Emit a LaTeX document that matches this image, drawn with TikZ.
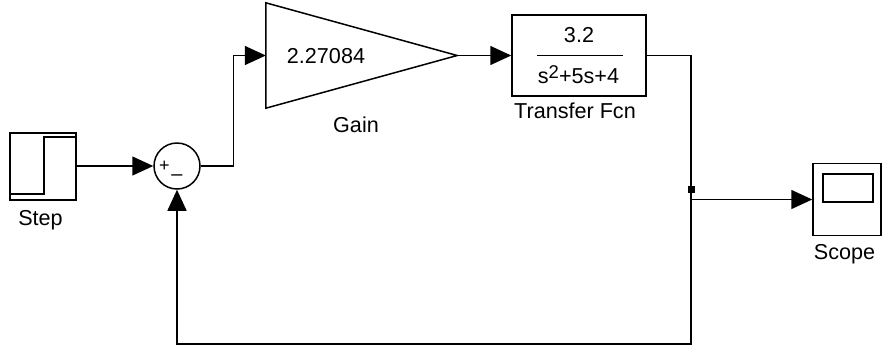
\documentclass[tikz,border=0pt]{standalone}
\usepackage{fontspec}
\setmainfont{Liberation Sans}
\usetikzlibrary{arrows.meta}
\begin{document}
\begin{tikzpicture}[x=1pt,y=-1pt,
  wire/.style={line width=1.5pt, line join=miter},
  sig/.style={wire, -{Triangle[length=21pt,width=19pt]}},
  blk/.style={draw, line width=1.5pt, inner sep=0pt, rectangle},
  lbl/.style={anchor=base, inner sep=0pt, font=\fontsize{21.6}{22}\selectfont},
  sgn/.style={inner sep=0pt, font=\fontsize{18}{18}\selectfont}]
\useasboundingbox (0,0) rectangle (882,354);

% Step source
\node[blk, minimum width=66pt, minimum height=67pt] (step) at (43,166.5) {};
\draw[wire] (step.south west) ++(0,-7) -| (44,137) -- (step.east |- 0,137);
\node[lbl] (steplbl) at (40.5,225) {Step};

% Summing junction
\node[draw, circle, line width=1.5pt, minimum size=46pt, inner sep=0pt] (sum) at (177,166) {};
\node[sgn] (plus) at (164.5,166.5) {+};
\node[sgn, font=\fontsize{20}{20}\selectfont] (minus) at (177,177.5) {–};

% Gain
\node[minimum width=191pt, minimum height=105pt, inner sep=0pt] (gain) at (361.5,55.5) {};
\draw[wire] (gain.north west) -- (gain.east) -- (gain.south west) -- cycle;
\node[lbl] (gainval) at (326,63) {2.27084};
\node[lbl] (gainlbl) at (356,132) {Gain};

% Transfer function
\node[blk, minimum width=134pt, minimum height=81pt] (tf) at (579,55.5) {};
\node[lbl] (num) at (579,42) {3.2};
\draw[line width=1.5pt] (537,55.5) coordinate (barl) -- (623,55.5) coordinate (barr);
\node[lbl] (den) at (578.5,83) {s{\fontsize{18.5}{18.5}\selectfont\raisebox{5pt}{2}}+5s+4};
\node[lbl] (tflbl) at (575,118) {Transfer Fcn};

% Scope
\node[blk, minimum width=68pt, minimum height=72pt] (scope) at (847,199.5) {};
\node[blk, minimum width=50pt, minimum height=28pt] (screen) at (848,188) {};
\node[lbl] (scopelbl) at (844.5,259) {Scope};

% Connectors
\coordinate (split) at (691,199.5);
\coordinate (bend) at (233.5,166);
\draw[sig] (step.east |- sum.west) -- (sum.west);
\draw[sig] (sum.east) -- (bend) |- (gain.west);
\draw[sig] (gain.east) -- (tf.west);
\draw[wire] (tf.east) -| (split);
\draw[sig] (split) -- (scope.west);
\draw[sig] (split) -- (691,344) -| (sum.south);
\fill (687.5,185.5) rectangle (694.5,192.5);
\end{tikzpicture}
\end{document}
